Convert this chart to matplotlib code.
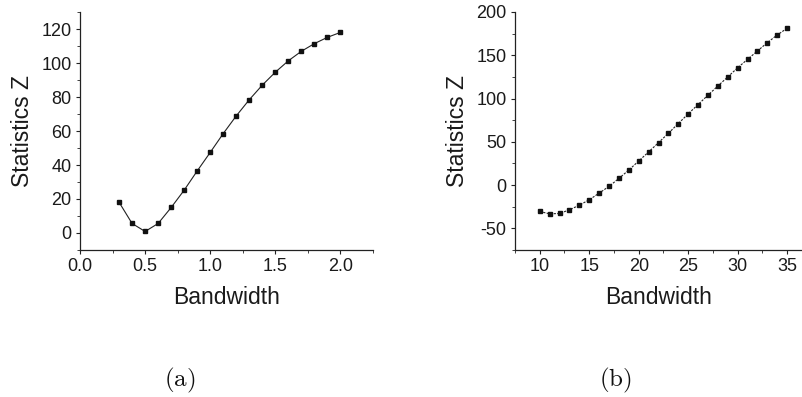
import matplotlib
matplotlib.use("Agg")
import matplotlib.pyplot as plt
from matplotlib.ticker import MultipleLocator

plt.rcParams['font.family'] = ['Liberation Sans', 'DejaVu Sans']
plt.rcParams['mathtext.fontset'] = 'cm'
plt.rcParams['axes.unicode_minus'] = False

# Panel (a)
bw_a = [0.3, 0.4, 0.5, 0.6, 0.7, 0.8, 0.9, 1.0, 1.1, 1.2, 1.3, 1.4, 1.5, 1.6, 1.7, 1.8, 1.9, 2.0]
z_a = [18.1, 5.6, 0.9, 5.6, 15.0, 25.2, 36.5, 47.4, 58.5, 68.9, 78.4, 87.0, 94.6, 101.3, 106.9, 111.4, 115.1, 118.0]

# Panel (b)
bw_b = list(range(10, 36))
z_b = [-30.5, -33.2, -32.8, -28.6, -23.2, -17.0, -9.3, -1.5, 7.7, 17.4, 27.8, 38.3, 49.0,
       59.9, 71.1, 82.3, 93.1, 103.9, 114.5, 125.0, 135.6, 145.3, 155.0, 164.6, 173.5, 181.2]

xlabel = "Bandwidth"
ylabel = "Statistics Z"
captions = ["(a)", "(b)"]

W, H = 802, 397
fig = plt.figure(figsize=(W / 100, H / 100), dpi=100)

def px_axes(x0, x1, y0, y1):
    return fig.add_axes([x0 / W, 1 - y1 / H, (x1 - x0) / W, (y1 - y0) / H])

txt_col = '#1a1a1a'

def style(ax):
    for s in ['top', 'right']:
        ax.spines[s].set_visible(False)
    for s in ['left', 'bottom']:
        ax.spines[s].set_linewidth(0.9)
        ax.spines[s].set_color('#222222')
    ax.tick_params(which='major', direction='out', length=3, width=0.8,
                   labelsize=13, colors='#222222', labelcolor=txt_col, pad=3)
    ax.tick_params(which='minor', direction='out', length=2, width=0.6, colors='#222222')
    ax.set_xlabel(xlabel, fontsize=16.5, color=txt_col, labelpad=8)
    ax.set_ylabel(ylabel, fontsize=16.5, color=txt_col, labelpad=5)

ax1 = px_axes(80, 373, 12, 250)
ax1.plot(bw_a, z_a, color='#222222', lw=0.8, marker='s', ms=3.3,
         mfc='#111111', mec='#111111')
ax1.set_xlim(0, 2.25)
ax1.set_ylim(-10, 130)
ax1.xaxis.set_major_locator(MultipleLocator(0.5))
ax1.xaxis.set_minor_locator(MultipleLocator(0.25))
ax1.yaxis.set_major_locator(MultipleLocator(20))
ax1.yaxis.set_minor_locator(MultipleLocator(10))
ax1.xaxis.set_major_formatter(matplotlib.ticker.FormatStrFormatter('%.1f'))
style(ax1)

ax2 = px_axes(515, 802, 12, 250)
ax2.plot(bw_b, z_b, color='#222222', lw=0.8, ls=(0, (2.0, 1.2)), marker='s', ms=3.3,
         mfc='#111111', mec='#111111')
ax2.set_xlim(7.5, 36.5)
ax2.set_ylim(-75, 200)
ax2.xaxis.set_major_locator(MultipleLocator(5))
ax2.xaxis.set_minor_locator(MultipleLocator(2.5))
ax2.yaxis.set_major_locator(MultipleLocator(50))
ax2.yaxis.set_minor_locator(MultipleLocator(25))
style(ax2)

fig.text(180 / W, 1 - 380 / H, r"$\mathrm{(a)}$", fontsize=18, ha='center', va='center', color='#111111')
fig.text(615 / W, 1 - 380 / H, r"$\mathrm{(b)}$", fontsize=18, ha='center', va='center', color='#111111')

fig.savefig("out.png", dpi=100)
